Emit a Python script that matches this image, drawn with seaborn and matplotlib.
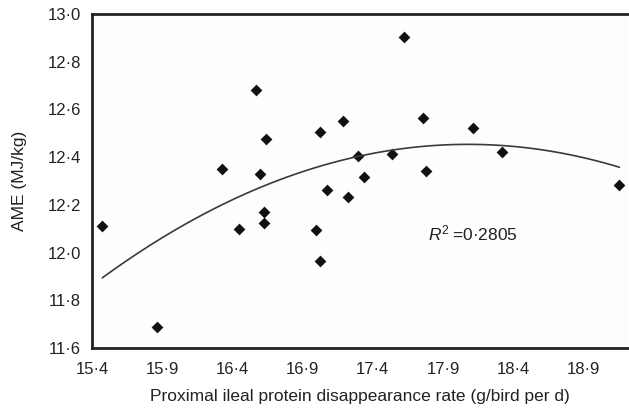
import numpy as np
import pandas as pd
import matplotlib
matplotlib.use("Agg")
import matplotlib.pyplot as plt
import seaborn as sns

# Proximal ileal protein disappearance rate (g/bird per d) and AME (MJ/kg)
protein_rate = [15.473, 15.861, 16.326, 16.447, 16.566, 16.597, 16.625, 16.625,
                16.639, 16.993, 17.021, 17.022, 17.074, 17.186, 17.226, 17.297,
                17.337, 17.539, 17.620, 17.754, 17.781, 18.116, 18.318, 19.156]
ame = [12.111, 11.689, 12.350, 12.099, 12.683, 12.331, 12.171, 12.123,
       12.475, 12.093, 11.964, 12.504, 12.263, 12.552, 12.234, 12.405,
       12.316, 12.415, 12.904, 12.564, 12.343, 12.524, 12.420, 12.283]

x_ticks = [15.4, 15.9, 16.4, 16.9, 17.4, 17.9, 18.4, 18.9]
y_ticks = [11.6, 11.8, 12.0, 12.2, 12.4, 12.6, 12.8, 13.0]
r2_label = "0·2805"

df = pd.DataFrame({"rate": protein_rate, "ame": ame})

sns.set_theme(style="white")
plt.rcParams["font.family"] = ["Liberation Sans", "DejaVu Sans"]
plt.rcParams["mathtext.fontset"] = "custom"
plt.rcParams["mathtext.rm"] = "Liberation Sans"
plt.rcParams["mathtext.it"] = "Liberation Sans:italic"

fig = plt.figure(figsize=(6.29, 4.15), dpi=100)
ax = fig.add_axes([0.1463, 0.1614, 0.8522, 0.8049])

# Quadratic regression through the points
sns.regplot(data=df, x="rate", y="ame", order=2, ci=None, ax=ax, marker="D",
            scatter_kws=dict(s=36, color="#111111", linewidths=0, alpha=1),
            line_kws=dict(color="#3a3a3a", lw=1.2))

ax.set_xlim(15.4, 19.218)
ax.set_ylim(11.6, 13.0)
ax.set_xticks(x_ticks)
ax.set_yticks(y_ticks)
ax.set_xticklabels([f"{v:.1f}".replace(".", "·") for v in x_ticks])
ax.set_yticklabels([f"{v:.1f}".replace(".", "·") for v in y_ticks])

ax.set_xlabel("Proximal ileal protein disappearance rate (g/bird per d)",
              fontsize=12.5, color="#222222", labelpad=9)
ax.set_ylabel("AME (MJ/kg)", fontsize=12.5, color="#222222", labelpad=15)

ax.tick_params(axis="both", direction="in", length=4, width=1.2,
               colors="#222222", labelsize=12)
ax.tick_params(axis="y", pad=8)
ax.tick_params(axis="x", pad=10)

for side in ("left", "bottom", "top"):
    ax.spines[side].set_visible(True)
    ax.spines[side].set_color("#222222")
    ax.spines[side].set_linewidth(2)
ax.spines["right"].set_visible(False)
ax.set_facecolor("#fdfdfd")

ax.text(17.793, 12.082, r"$\mathit{R}^{2}$" + "\u2009=" + r2_label,
        fontsize=12.5, color="#222222", va="center", ha="left")

fig.savefig("out.png", dpi=100)
